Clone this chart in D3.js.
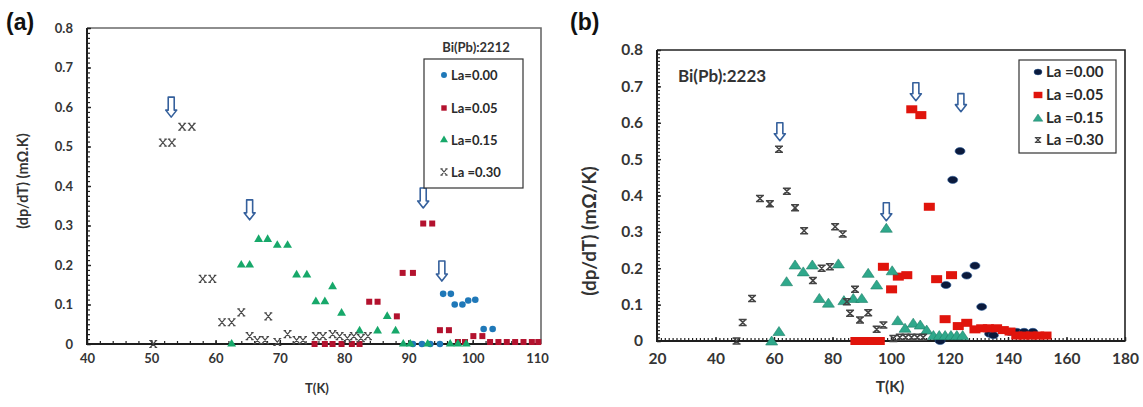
<!DOCTYPE html>
<html><head><meta charset="utf-8">
<script src="https://cdn.jsdelivr.net/npm/d3@7"></script>
<style>
body{margin:0;background:#fff}
svg{display:block}
text{font-family:Lato,"Open Sans",sans-serif;font-weight:bold}
</style>
</head><body>
<svg id="chart" width="1143" height="407"></svg>
<script>
// ---- Tick labels ----
const xTicksA = [40, 50, 60, 70, 80, 90, 100, 110];
const xTicksB = [20, 40, 60, 80, 100, 120, 140, 160, 180];
const yTicks = [0, 0.1, 0.2, 0.3, 0.4, 0.5, 0.6, 0.7, 0.8];

// ---- Legend labels ----
const labelsA = ["La=0.00", "La=0.05", "La=0.15", "La =0.30"];
const labelsB = ["La =0.00", "La =0.05", "La =0.15", "La =0.30"];

// ---- Bi(Pb):2212, [T (K), dρ/dT] ----
const a_La000 = [[90.7,0],[92.1,0],[93.4,0],[94.9,0],[95.4,0.127],[96.6,0.127],[97.2,0.1],[98.4,0.1],
  [99.3,0.11],[100.4,0.112],[101.7,0.038],[103.1,0.038]];
const a_La005 = [[75.4,0],[77,0],[78.2,0],[79.6,0],[81.2,0],[82.4,0],[83.9,0.107],[85.2,0.107],[88.2,0.07],
  [89.1,0.18],[90.7,0.18],[92.3,0.305],[93.7,0.305],[94.9,0.035],[96.3,0.035],[97.7,0.005],[98.8,0.005],
  [100.1,0.02],[101.5,0.02],[102.7,0.005],[104,0.005],[105.3,0.005],[106.6,0.005],[107.9,0.005],[109.2,0.005],[110.2,0.005]];
const a_La015 = [[62.5,0],[64,0.2],[65.3,0.2],[66.7,0.265],[68.1,0.265],[69.6,0.25],[71.2,0.25],[72.6,0.175],
  [74.2,0.175],[75.6,0.107],[77,0.107],[78.2,0.145],[79.6,0.078],[82.4,0.033],[85.2,0.033],[86.7,0.07],[88,0.033],
  [89.2,0],[90.3,0],[93,0],[96.5,0],[97.7,0],[99,0]];
const a_La030 = [[50.3,0],[51.8,0.51],[53.2,0.51],[54.8,0.55],[56.3,0.55],[58,0.165],[59.5,0.165],[61,0.055],
  [62.5,0.055],[64,0.08],[65.3,0.02],[66.5,0.01],[67.7,0.01],[68.2,0.07],[69.6,0.005],[71.2,0.025],[72.6,0.01],
  [73.6,0.01],[75.6,0.02],[76.7,0.02],[78.2,0.025],[79.3,0.02],[80.5,0.015],[81.5,0.02],[82.6,0.015],[83.7,0.02]];
const arrowsA = [[53.1,0.625],[65.3,0.365],[92.3,0.395],[95.2,0.21]];

// ---- Bi(Pb):2223, [T (K), dρ/dT] ----
const b_La000 = [[116.8,0],[118.8,0.154],[121.1,0.443],[123.6,0.522],[125.9,0.18],[128.7,0.207],[131,0.094],
  [133.7,0.02],[135,0.016],[140.6,0.025],[143,0.025],[145.5,0.025],[148.5,0.025]];
const b_La005 = [[88,0],[90,0],[92,0],[94,0],[96,0],[97.4,0.204],[100.2,0.142],[102.5,0.177],[105.4,0.181],
  [107.1,0.637],[110.2,0.621],[113.1,0.369],[115.6,0.17],[118.5,0.06],[120.7,0.181],[123,0.041],[125.9,0.05],
  [128.7,0.032],[131,0.035],[133.3,0.035],[136.1,0.035],[138.4,0.03],[140.7,0.026],[143,0.015],[145.5,0.015],
  [148,0.015],[150.5,0.015],[153,0.015]];
const b_La015 = [[59.2,0],[61.7,0.026],[64.3,0.163],[67.2,0.209],[70,0.19],[73.1,0.209],[75.5,0.117],[78.6,0.104],
  [82,0.212],[83.9,0.111],[87.1,0.117],[90,0.117],[92.2,0.186],[95.1,0.154],[98.4,0.31],[100.4,0.193],[102.3,0.056],
  [104.8,0.035],[107.6,0.049],[110,0.044],[112.2,0.03],[114.5,0.015],[116.5,0.015],[118.5,0.015],[120.5,0.015],
  [122.5,0.015],[124.5,0.015]];
const b_La030 = [[47.2,0],[49.3,0.051],[52.5,0.117],[55.2,0.392],[58.6,0.377],[61.7,0.527],[64.4,0.412],[67.2,0.366],
  [70.3,0.303],[73.3,0.166],[76.3,0.2],[79.1,0.204],[80.9,0.314],[83.5,0.294],[84.9,0.108],[86,0.076],[87.7,0.142],
  [89.4,0.058],[92.2,0.078],[95.1,0.032],[97.4,0.044],[100.8,0.007],[103,0.01],[105,0.01],[107,0.01],[109,0.01],[111,0.01]];
const arrowsB = [[62,0.6],[108.5,0.71],[123.9,0.68],[98.4,0.38]];

const svg = d3.select("#chart");

// marker painters: each draws one symbol centred at (0,0) into a group
const markers = {
  dotA: g => g.append("circle").attr("r", 3.3).attr("fill", "#1f78b8"),
  squareA: g => g.append("rect").attr("x", -3).attr("y", -3).attr("width", 6).attr("height", 6).attr("fill", "#b3122e"),
  triA: g => g.append("path").attr("d", d3.symbol(d3.symbolTriangle, 34)()).attr("fill", "#17a86a"),
  crossA: g => g.append("path").attr("d", "M-3,-3.5L3,3.5M3,-3.5L-3,3.5M-4,-3.5H-1.5M1.5,-3.5H4M-4,3.5H-1.5M1.5,3.5H4")
    .attr("stroke", "#4a4a4a").attr("stroke-width", 1.2).attr("fill", "none"),
  dotB: g => g.append("ellipse").attr("rx", 5).attr("ry", 3.6).attr("fill", "#0b1a3c").attr("stroke", "#2a5d9a").attr("stroke-width", 0.6),
  squareB: g => g.append("rect").attr("x", -5.5).attr("y", -4).attr("width", 11).attr("height", 8).attr("fill", "#e0140c"),
  triB: g => g.append("path").attr("d", "M0,-5L6,4H-6Z").attr("fill", "#2fa88b").attr("stroke", "#1f7f68").attr("stroke-width", 0.6),
  crossB: g => g.append("path").attr("d", "M-4,-3H4M-4,3H4M-3,-3L3,3M3,-3L-3,3")
    .attr("stroke", "#444").attr("stroke-width", 1.5).attr("fill", "none")
};

function drawPanel(cfg) {
  const g = svg.append("g");
  const x = d3.scaleLinear().domain(cfg.xDomain).range(cfg.xRange);
  const y = d3.scaleLinear().domain([0, 0.8]).range(cfg.yRange);
  const x0 = cfg.xRange[0], x1 = cfg.frameRight, y0 = cfg.yRange[0], y1 = cfg.yRange[1];

  // plot frame (top and right edges)
  g.append("path").attr("d", `M${x0},${y1}H${x1}V${y0}`).attr("fill", "none")
    .attr("stroke", cfg.frameColor).attr("stroke-width", 1.6);

  // minor ticks, pointing into the plot
  const minorY = d3.range(0, 0.8001, cfg.yMinor);
  const minorX = d3.range(cfg.xDomain[0], cfg.xDomain[1] + 0.001, cfg.xMinor);
  g.append("g").attr("transform", `translate(${x0},0)`)
    .call(d3.axisLeft(y).tickValues(minorY).tickSizeInner(-3).tickSizeOuter(0).tickFormat(""))
    .call(a => a.select(".domain").remove())
    .call(a => a.selectAll("line").attr("stroke", "#222").attr("stroke-width", 1.2));
  g.append("g").attr("transform", `translate(0,${y0})`)
    .call(d3.axisBottom(x).tickValues(minorX).tickSizeInner(-3).tickSizeOuter(0).tickFormat(""))
    .call(a => a.select(".domain").remove())
    .call(a => a.selectAll("line").attr("stroke", "#222").attr("stroke-width", 1.2));

  // major axes with labels
  const yAxis = g.append("g").attr("transform", `translate(${x0},0)`)
    .call(d3.axisLeft(y).tickValues(yTicks).tickSizeInner(-4).tickSizeOuter(0).tickPadding(cfg.yPad)
      .tickFormat(v => v === 0 ? "0" : d3.format(".1f")(v)));
  const xAxis = g.append("g").attr("transform", `translate(0,${y0})`)
    .call(d3.axisBottom(x).tickValues(cfg.xTicks).tickSizeInner(-4).tickSizeOuter(0).tickPadding(cfg.xPad));
  [yAxis, xAxis].forEach(a => {
    a.selectAll("line").attr("stroke", "#222").attr("stroke-width", 1.4);
    a.selectAll("text").attr("fill", "#353535").style("font-size", cfg.tickFont + "px")
      .style("font-family", "Lato, sans-serif").style("font-weight", "bold");
  });
  g.append("path").attr("d", `M${x0},${y1}V${y0}H${x1}`).attr("fill", "none")
    .attr("stroke", "#1e1e1e").attr("stroke-width", 2);

  // data markers
  cfg.series.forEach(s => {
    g.append("g").selectAll("g").data(s.data).join("g")
      .attr("transform", d => `translate(${x(d[0])},${y(d[1])})`)
      .each(function () { markers[s.marker](d3.select(this)); });
  });

  // down arrows pointing at the transition peaks
  const aw = cfg.arrow.shaft / 2, hw = cfg.arrow.head / 2, hh = cfg.arrow.len, hl = cfg.arrow.headLen;
  g.append("g").selectAll("path").data(cfg.arrows).join("path")
    .attr("transform", d => `translate(${x(d[0])},${y(d[1])})`)
    .attr("d", `M${-aw},0H${aw}V${hh - hl}H${hw}L0,${hh}L${-hw},${hh - hl}H${-aw}Z`)
    .attr("fill", "#fff").attr("stroke", "#35609c").attr("stroke-width", 1.6).attr("stroke-linejoin", "round");

  // legend
  const L = cfg.legend;
  g.append("rect").attr("x", L.x).attr("y", L.y).attr("width", L.w).attr("height", L.h)
    .attr("fill", "#fff").attr("stroke", "#333").attr("stroke-width", 1.2);
  cfg.series.forEach((s, i) => {
    const row = g.append("g").attr("transform", `translate(${L.mx},${L.rows[i]})`);
    markers[s.marker](row.append("g").attr("transform", `scale(${L.ms})`));
    row.append("text").attr("x", L.tx - L.mx).attr("dy", "0.36em").attr("fill", "#2a2a2a")
      .style("font-size", L.font + "px").text(s.label);
  });

  // sample name
  g.append("text").attr("x", cfg.name.x).attr("y", cfg.name.y).attr("fill", "#333")
    .attr("text-anchor", cfg.name.anchor).style("font-size", cfg.name.font + "px").text(cfg.name.text);

  // axis titles
  g.append("text").attr("transform", `translate(${cfg.yTitle.x},${cfg.yTitle.y}) rotate(-90)`)
    .attr("text-anchor", "middle").attr("fill", "#333").style("font-size", cfg.yTitle.font + "px")
    .text(cfg.yTitle.text);
  g.append("text").attr("x", cfg.xTitle.x).attr("y", cfg.xTitle.y).attr("text-anchor", "middle")
    .attr("fill", "#333").style("font-size", cfg.xTitle.font + "px").text("T(K)");

  // panel letter
  g.append("text").attr("x", cfg.letter.x).attr("y", cfg.letter.y).attr("fill", "#111")
    .style("font-family", "'Liberation Sans', Arial, sans-serif").style("font-size", "23px").text(cfg.letter.text);
}

drawPanel({
  xDomain: [40, 110], xRange: [87, 537], yRange: [344, 28], frameRight: 541, frameColor: "#6a6a6a",
  xTicks: xTicksA, xMinor: 2, yMinor: 0.0125, yPad: 14, xPad: 10, tickFont: 13,
  series: [
    { label: labelsA[0], marker: "dotA", data: a_La000 },
    { label: labelsA[1], marker: "squareA", data: a_La005 },
    { label: labelsA[2], marker: "triA", data: a_La015 },
    { label: labelsA[3], marker: "crossA", data: a_La030 }
  ],
  arrows: arrowsA, arrow: { shaft: 6, head: 11, len: 20, headLen: 7 },
  legend: { x: 424, y: 59, w: 99, h: 129, rows: [75, 108, 140, 172], mx: 444, tx: 451, ms: 0.9, font: 13 },
  name: { text: "Bi(Pb):2212", x: 476, y: 52, anchor: "middle", font: 13 },
  yTitle: { text: "(dp/dT) (mΩ.K)", x: 28, y: 181, font: 14.5 },
  xTitle: { x: 317, y: 393, font: 13 },
  letter: { text: "(a)", x: 6, y: 30 }
});

drawPanel({
  xDomain: [20, 180], xRange: [657, 1125], yRange: [341, 50], frameRight: 1125, frameColor: "#222",
  xTicks: xTicksB, xMinor: 4 / 3, yMinor: 0.01, yPad: 14, xPad: 12, tickFont: 15.5,
  series: [
    { label: labelsB[0], marker: "dotB", data: b_La000 },
    { label: labelsB[1], marker: "squareB", data: b_La005 },
    { label: labelsB[2], marker: "triB", data: b_La015 },
    { label: labelsB[3], marker: "crossB", data: b_La030 }
  ],
  arrows: arrowsB, arrow: { shaft: 6, head: 11, len: 18, headLen: 7 },
  legend: { x: 1019, y: 60, w: 97, h: 93, rows: [72, 95, 118, 140], mx: 1038, tx: 1046, ms: 0.8, font: 15 },
  name: { text: "Bi(Pb):2223", x: 678, y: 82, anchor: "start", font: 17 },
  yTitle: { text: "(dp/dT) (mΩ/K)", x: 596, y: 231, font: 19 },
  xTitle: { x: 890, y: 392, font: 15.5 },
  letter: { text: "(b)", x: 570, y: 30 }
});
</script>
</body></html>
